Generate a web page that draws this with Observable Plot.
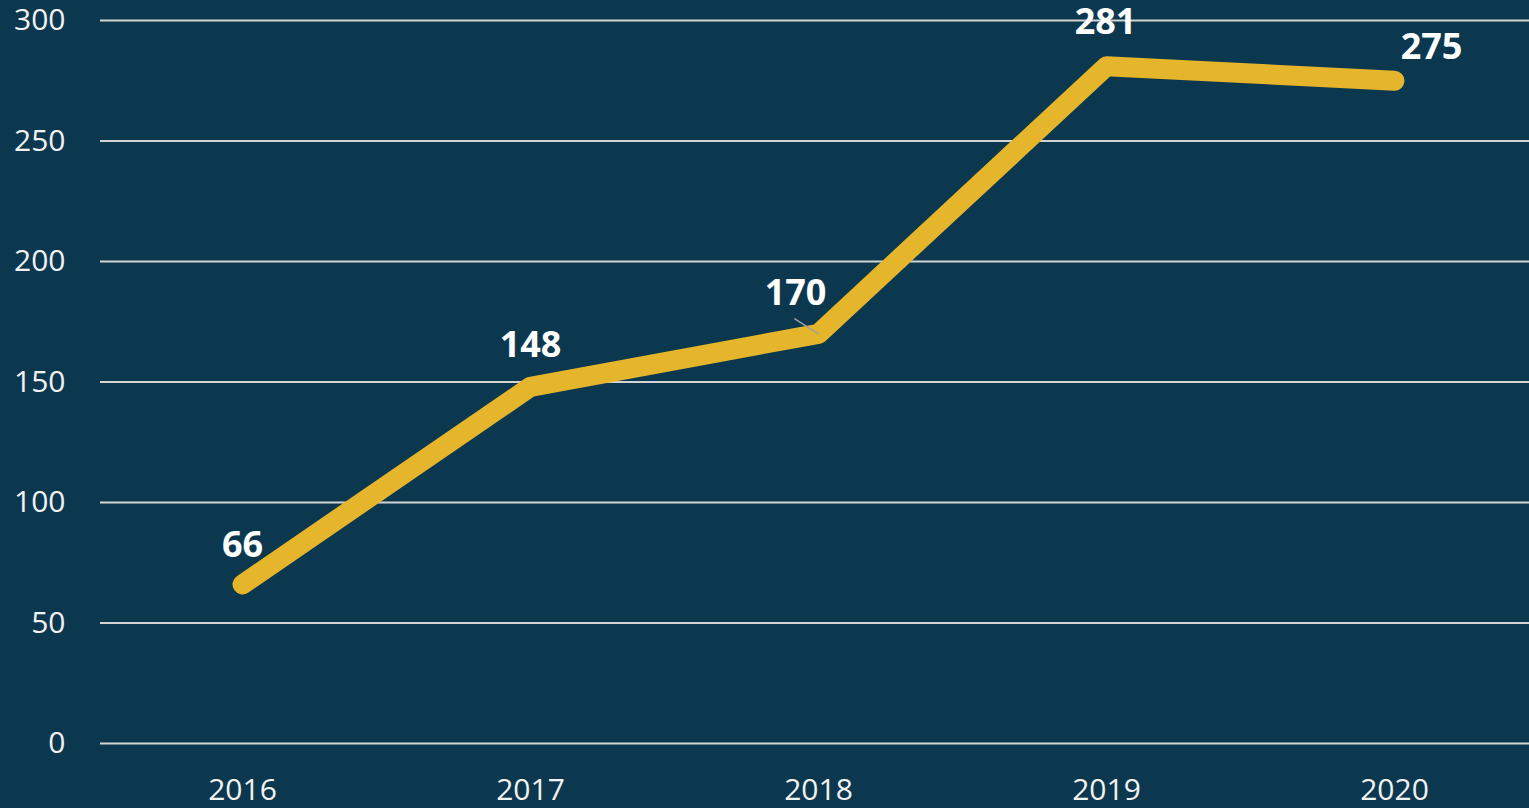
<!DOCTYPE html>
<html>
<head>
<meta charset="utf-8">
<script src="https://cdn.jsdelivr.net/npm/d3@7"></script>
<script src="https://cdn.jsdelivr.net/npm/@observablehq/plot@0.6"></script>
<style>
  html, body { margin: 0; padding: 0; background: #0c384f; overflow: hidden; }
  svg { overflow: visible; }
</style>
</head>
<body>
<div id="chart"></div>
<script>
const years = ["2016", "2017", "2018", "2019", "2020"];
const values = [66, 148, 170, 281, 275];
const yTicks = [0, 50, 100, 150, 200, 250, 300];

const data = years.map((year, i) => ({year, value: values[i]}));

const labelOffsets = {
  "2016": [0, -39],
  "2017": [0, -41],
  "2018": [-23, -40],
  "2019": [-1, -44],
  "2020": [37, -33]
};

const labelMarks = data.map(d => Plot.text([d], {
  x: "year", y: "value", text: d => String(d.value),
  dx: labelOffsets[d.year][0], dy: labelOffsets[d.year][1],
  fill: "#ffffff", fontSize: 36, fontWeight: "bold",
  fontFamily: "Open Sans, Noto Sans, sans-serif"
}));

const chart = Plot.plot({
  width: 1529,
  height: 808,
  marginLeft: 100,
  marginRight: 0,
  marginTop: 20,
  marginBottom: 65,
  style: { background: "#0c384f", color: "#f2f2f2", fontFamily: "Open Sans, Noto Sans, sans-serif", fontSize: "30px", overflow: "visible" },
  x: { type: "point", domain: years, range: [242, 1394], padding: 0, label: null, tickSize: 0, tickPadding: 35 },
  y: { domain: [0, 300], ticks: yTicks, label: null, tickSize: 0, tickPadding: 35 },
  marks: [
    Plot.ruleY(yTicks, { stroke: "#d4d4d4", strokeWidth: 2 }),
    Plot.line(data, { x: "year", y: "value", stroke: "#e5b52c", strokeWidth: 20, strokeLinecap: "round", strokeLinejoin: "round" }),
    Plot.vector(data.filter(d => d.year === "2018"), {
      x: "year", y: "value", length: 28, rotate: -58, anchor: "start",
      stroke: "#a0a0a0", strokeWidth: 1.5,
      shape: { draw(context, l) { context.moveTo(0, 0); context.lineTo(0, -l); } }
    }),
    ...labelMarks
  ]
});
document.getElementById("chart").appendChild(chart);
</script>
</body>
</html>
